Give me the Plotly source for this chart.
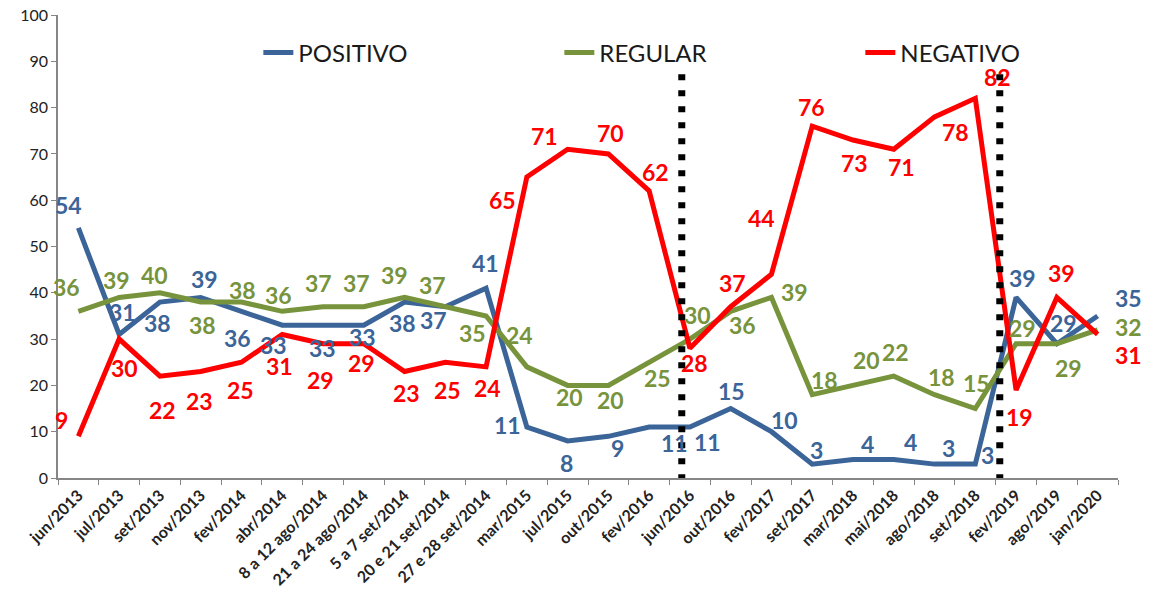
import plotly.graph_objects as go

categories = ["jun/2013", "jul/2013", "set/2013", "nov/2013", "fev/2014", "abr/2014",
              "8 a 12 ago/2014", "21 a 24 ago/2014", "5 a 7 set/2014", "20 e 21 set/2014",
              "27 e 28 set/2014", "mar/2015", "jul/2015", "out/2015", "fev/2016", "jun/2016",
              "out/2016", "fev/2017", "set/2017", "mar/2018", "mai/2018", "ago/2018",
              "set/2018", "fev/2019", "ago/2019", "jan/2020"]

positivo = [54, 31, 38, 39, 36, 33, 33, 33, 38, 37, 41, 11, 8, 9, 11, 11, 15, 10, 3, 4, 4, 3, 3, 39, 29, 35]
regular = [36, 39, 40, 38, 38, 36, 37, 37, 39, 37, 35, 24, 20, 20, 25, 30, 36, 39, 18, 20, 22, 18, 15, 29, 29, 32]
negativo = [9, 30, 22, 23, 25, 31, 29, 29, 23, 25, 24, 65, 71, 70, 62, 28, 37, 44, 76, 73, 71, 78, 82, 19, 39, 31]

series_names = ["POSITIVO", "REGULAR", "NEGATIVO"]

# label offsets in pixels (dx right, dy up) -- styling only
pos_off = [(-10, 23), (3, 22), (-2, -21), (4, 18), (-4, -27), (-9, -20), (-1, -23), (-1, -12),
           (-2, -21), (-12, -13), (-1, 25), (-19, 2), (-1, -22), (9, -12), (25, -16), (18, -15),
           (1, 18), (13, 12), (4, 14), (14, 15), (17, 17), (14, 16), (12, 9), (6, 19), (7, 21), (31, 18)]
reg_off = [(-12, 24), (-3, 17), (-5, 18), (2, -23), (1, 12), (-4, 16), (-5, 24), (-7, 24),
           (-10, 22), (-13, 22), (-14, -17), (-7, 32), (2, -12), (2, -15), (8, -16), (8, 24),
           (12, -14), (23, 5), (12, 15), (13, 25), (2, 24), (7, 18), (1, 26), (6, 16), (12, -24), (31, 3)]
neg_off = [(-17, 16), (5, -29), (3, -34), (-1, -29), (-1, -28), (-3, -32), (-3, -36), (-2, -19),
           (2, -21), (2, -28), (1, -21), (-24, -23), (-23, 13), (2, 21), (6, 19), (5, -15),
           (2, 24), (-10, 56), (-1, 19), (1, -23), (8, -18), (21, -15), (22, 21), (3, -27), (5, 24), (31, -21)]

colors = ["#3B6498", "#77933C", "#FF0000"]
FONT = "Lato"

fig = go.Figure()
for name, vals, col in zip(series_names, [positivo, regular, negativo], colors):
    fig.add_trace(go.Scatter(x=categories, y=vals, mode="lines", name=name,
                             line=dict(color=col, width=5), hoverinfo="skip"))

annotations = []
for vals, offs, col in zip([positivo, regular, negativo], [pos_off, reg_off, neg_off], colors):
    for c, v, (dx, dy) in zip(categories, vals, offs):
        annotations.append(dict(x=c, y=v, xref="x", yref="y", text=str(v), showarrow=False,
                                xshift=dx, yshift=dy,
                                font=dict(family=FONT, size=23, color=col, weight="bold")))

shapes = []
for xpos, ytop in [(14.8, 88.1), (22.6, 88.5)]:
    shapes.append(dict(type="line", xref="x", yref="y", x0=xpos, x1=xpos, y0=-0.5, y1=ytop,
                       line=dict(color="black", width=7, dash="6px,10px")))

fig.update_layout(
    width=1151, height=604,
    margin=dict(l=58, r=33, t=15, b=126, autoexpand=False),
    paper_bgcolor="white", plot_bgcolor="white",
    font=dict(family=FONT, color="#222222"),
    annotations=annotations,
    shapes=shapes,
    legend=dict(orientation="h", x=0.189, y=0.918, xanchor="left", yanchor="middle",
                font=dict(family=FONT, size=24, color="#1a1a1a"),
                entrywidth=256, entrywidthmode="pixels", bgcolor="rgba(0,0,0,0)"),
    showlegend=True,
)
fig.update_xaxes(type="category", range=[-0.5, 25.5], showline=True, linecolor="#868686", linewidth=1.5,
                 ticks="outside", ticklen=5, tickcolor="#868686", tickson="boundaries",
                 tickangle=-45, tickfont=dict(family=FONT, size=16, color="#222222", weight="bold"),
                 showgrid=False, zeroline=False, automargin=False, ticklabeloverflow="allow")
fig.update_yaxes(range=[0, 100], dtick=10, showline=True, linecolor="#868686", linewidth=1.5,
                 ticks="outside", ticklen=5, tickcolor="#868686",
                 tickfont=dict(family=FONT, size=16, color="#222222"),
                 showgrid=False, zeroline=False, automargin=False, ticklabeloverflow="allow")

fig.write_html("out.html", config={"displayModeBar": False},
               post_script="document.body.style.margin='0';")
